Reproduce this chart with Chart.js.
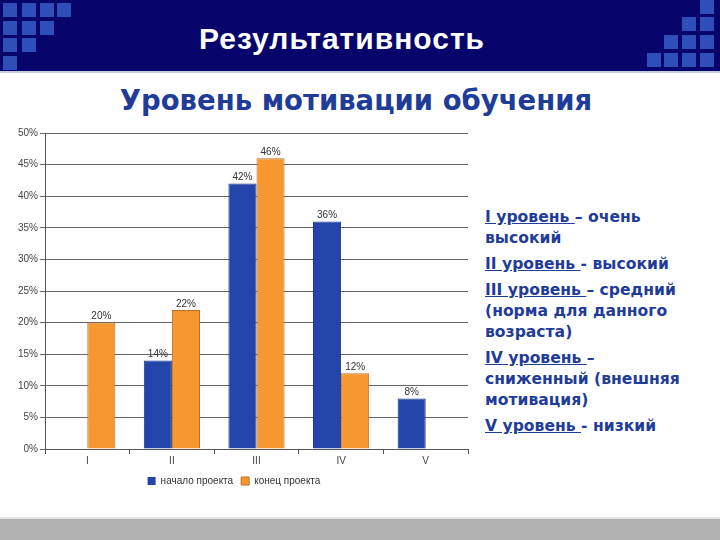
<!DOCTYPE html>
<html>
<head>
<meta charset="utf-8">
<script src="https://cdn.jsdelivr.net/npm/chart.js@4"></script>
<style>
    body {
        margin: 0;
        width: 720px;
        height: 540px;
        position: relative;
        overflow: hidden;
        background: #fff;
        font-family: "DejaVu Sans", sans-serif;
    }
    #header {
        position: absolute; left: 0; top: 0;
        width: 720px; height: 71px;
        background: #07056b;
        border-bottom: 2px solid #c8cce0;
    }
    .sq { position: absolute; width: 14px; height: 14px; background: #2f4fb8; }
    #title {
        position: absolute; left: 0; top: 22px; width: 684px;
        text-align: center; color: #fff;
        font: bold 30px "Liberation Sans", sans-serif;
        letter-spacing: 1px;
    }
    #subtitle {
        position: absolute; left: 0; top: 84px; width: 712px;
        text-align: center; color: #1f3c99;
        font: bold 27.5px "DejaVu Sans", sans-serif;
    }
    #chart-box { position: absolute; left: 0; top: 120px; width: 480px; height: 382px; }
    #levels {
        position: absolute; left: 485px; top: 207px; width: 205px;
        color: #1f3c99;
        font: bold 15.6px "DejaVu Sans", sans-serif;
        line-height: 21px;
    }
    #levels p { margin: 0 0 5px 0; }
    #footer {
        position: absolute; left: 0; top: 517px;
        width: 720px; height: 23px;
        background: #b2b2b2;
        border-top: 2px solid #e2e2e2;
    }
</style>
</head>
<body>
<div id="header">
    <div id="title">Результативность</div>
</div>
<div id="subtitle">Уровень мотивации обучения</div>
<div id="chart-box"><canvas id="chart-levels"></canvas></div>
<div id="levels">
    <p><u>I уровень </u>– очень высокий</p>
    <p><u>II уровень </u>- высокий</p>
    <p><u>III уровень </u>– средний (норма для данного возраста)</p>
    <p><u>IV уровень </u>– сниженный (внешняя мотивация)</p>
    <p><u>V уровень </u>- низкий</p>
</div>
<div id="footer"></div>

<script>
// chart data
const levels = ['I', 'II', 'III', 'IV', 'V'];
const startValues = [0, 14, 42, 36, 8];   // начало проекта
const endValues = [20, 22, 46, 12, 0];    // конец проекта
const seriesNames = ['начало проекта', 'конец проекта'];
const yMax = 50;
const yStep = 5;

// header decoration squares (left block: 4,3,2,1 / right block: 1,2,3,4)
const header = document.getElementById('header');
const leftCols = [3, 22, 40, 57];
const leftRows = [3, 21, 38, 56];
leftRows.forEach((y, r) => {
    for (let c = 0; c < 4 - r; c++) addSquare(leftCols[c], y);
});
const rightCols = [647, 664, 682, 700];
const rightRows = [0, 17, 35, 53];
rightRows.forEach((y, r) => {
    for (let c = 3 - r; c < 4; c++) addSquare(rightCols[c], y);
});
function addSquare(x, y) {
    const d = document.createElement('div');
    d.className = 'sq';
    d.style.left = x + 'px';
    d.style.top = y + 'px';
    header.appendChild(d);
}

// value labels above the bars
const valueLabels = {
    id: 'valueLabels',
    afterDatasetsDraw(chart) {
        const ctx = chart.ctx;
        ctx.save();
        ctx.font = '10px "Liberation Sans", sans-serif';
        ctx.fillStyle = '#333';
        ctx.textAlign = 'center';
        ctx.textBaseline = 'bottom';
        chart.data.datasets.forEach((ds, i) => {
            chart.getDatasetMeta(i).data.forEach((bar, j) => {
                if (ds.data[j] > 0) ctx.fillText(ds.data[j] + '%', bar.x, bar.y - 1);
            });
        });
        ctx.restore();
    }
};

const tickFont = { family: '"Liberation Sans", sans-serif', size: 10 };

new Chart(document.getElementById('chart-levels'), {
    type: 'bar',
    data: {
        labels: levels,
        datasets: [
            {
                label: seriesNames[0],
                data: startValues,
                backgroundColor: '#2344a8',
                borderColor: '#1a3486',
                borderWidth: c => (c.raw > 0 ? 1 : 0)
            },
            {
                label: seriesNames[1],
                data: endValues,
                backgroundColor: '#f7972f',
                borderColor: '#b8702a',
                borderWidth: c => (c.raw > 0 ? 1 : 0)
            }
        ]
    },
    options: {
        responsive: true,
        maintainAspectRatio: false,
        animation: false,
        layout: { padding: { top: 13, right: 12, left: 0, bottom: 6 } },
        datasets: { bar: { barPercentage: 1, categoryPercentage: 0.664 } },
        plugins: {
            legend: {
                position: 'bottom',
                labels: {
                    boxWidth: 8, boxHeight: 8,
                    padding: 8,
                    color: '#333',
                    font: { family: '"Liberation Sans", sans-serif', size: 10 }
                }
            },
            tooltip: { enabled: false }
        },
        scales: {
            x: {
                grid: { offset: true, drawOnChartArea: false, drawTicks: true, tickLength: 5, color: '#555' },
                border: { color: '#555' },
                ticks: { color: '#444', font: tickFont, padding: 1 }
            },
            y: {
                min: 0, max: yMax,
                afterFit: s => { s.width = 45; },
                grid: { color: '#666', tickLength: 5 },
                border: { color: '#555' },
                ticks: { stepSize: yStep, color: '#444', font: tickFont, padding: 2, callback: v => v + '%' }
            }
        }
    },
    plugins: [valueLabels]
});
</script>
</body>
</html>
